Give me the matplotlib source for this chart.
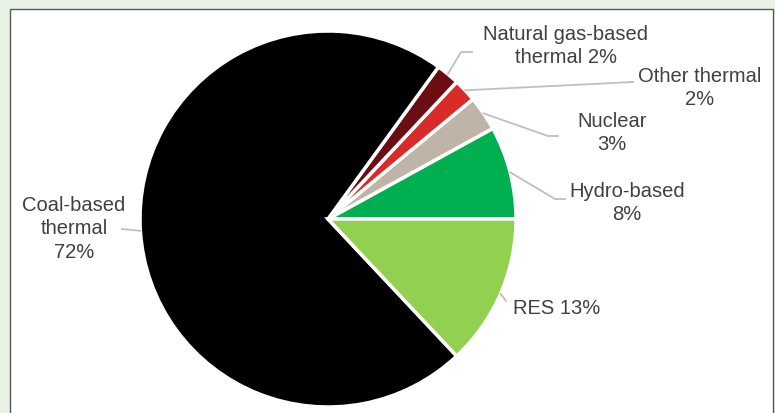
import numpy as np
import matplotlib.pyplot as plt
from matplotlib.patches import Rectangle

# данные (против часовой стрелки от 3 часов)
labels = ['Hydro-based\n8%', 'Nuclear\n3%', 'Other thermal\n2%',
          'Natural gas-based\nthermal 2%', 'Coal-based\nthermal\n72%', 'RES 13%']
shares = [8, 3, 2, 2, 72, 13]
colors = ['#00B050', '#BFB5A6', '#D92B27', '#6B0D13', '#000000', '#92D050']

W, H = 775, 414
cx, cy, R = 328, H - 220, 188

# где стоят подписи (в пикселях картинки) и изломы линий
text_pos = [(627, 203), (612, 133), (700, 88), (566, 46), (74, 229), (513, 308)]
text_ha = ['center', 'center', 'center', 'center', 'center', 'left']
leader_pts = [[(555, 200), (565, 200)],
              [(548, 137), (558, 137)],
              [(633, 83)],
              [(461, 53), (472, 53)],
              [(122, 230)],
              [(506, 302)]]

fig = plt.figure(figsize=(W / 100, H / 100), dpi=100, facecolor='#E8F3E6')
ax = fig.add_axes([0, 0, 1, 1])

# белая рамка
ax.add_patch(Rectangle((10, -5), 763, H - 10 + 5, facecolor='white',
                       edgecolor='#595959', linewidth=1.0, zorder=0))

wedges, _ = ax.pie(shares, colors=colors, startangle=0, counterclock=True,
                   center=(cx, cy), radius=R, frame=True,
                   wedgeprops=dict(edgecolor='white', linewidth=2.5))
ax.set_xlim(0, W)
ax.set_ylim(0, H)
ax.axis('off')

for w, lab, (tx, ty), ha, pts in zip(wedges, labels, text_pos, text_ha, leader_pts):
    mid = np.deg2rad((w.theta1 + w.theta2) / 2)
    x0 = cx + R * np.cos(mid)
    y0 = cy + R * np.sin(mid)
    xs = [x0] + [p[0] for p in pts]
    ys = [y0] + [H - p[1] for p in pts]
    ax.plot(xs, ys, color='#BFBFBF', linewidth=1.3, zorder=3)
    ax.text(tx, H - ty, lab, ha=ha, va='center', fontsize=14.5,
            family=['Liberation Sans', 'DejaVu Sans'], color='#404040',
            linespacing=1.3, zorder=4)

fig.savefig('out.png', dpi=100, facecolor=fig.get_facecolor())
